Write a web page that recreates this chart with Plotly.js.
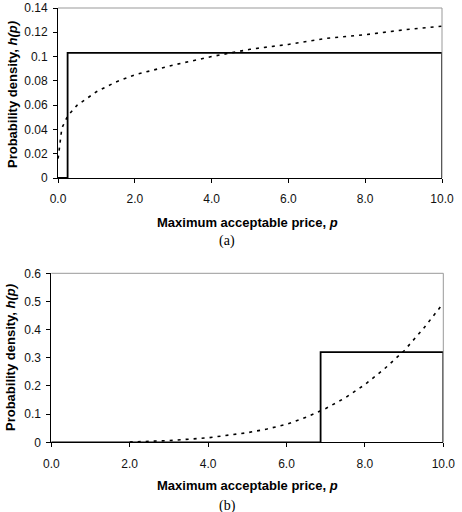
<!DOCTYPE html>
<html>
<head>
<meta charset="utf-8">
<script src="https://cdn.plot.ly/plotly-3.0.1.min.js"></script>
<style>html,body{margin:0;padding:0;background:#fff;}#chart{width:462px;height:512px;}</style>
</head>
<body>
<div id="chart"></div>
<script>
// Panel (a): step distribution and smooth density
var stepAx = [0, 0.25, 0.25, 10, 10];
var stepAy = [0, 0, 0.103, 0.103, 0];
var curveAx = [0.003, 0.1, 0.25, 0.5, 1, 1.5, 2, 3, 4, 5, 6, 7, 8, 9, 10];
var curveAy = [0.016, 0.041, 0.051, 0.060, 0.071, 0.079, 0.085, 0.093, 0.100, 0.106, 0.110, 0.115, 0.118, 0.122, 0.125];

// Panel (b)
var stepBx = [0, 6.87, 6.87, 10, 10];
var stepBy = [0, 0, 0.32, 0.32, 0];
var curveBx = [2, 3, 4, 5, 5.5, 6, 6.5, 7, 7.5, 8, 8.5, 9, 9.5, 9.95];
var curveBy = [0.001, 0.006, 0.016, 0.034, 0.047, 0.064, 0.089, 0.120, 0.158, 0.205, 0.261, 0.325, 0.405, 0.485];

var xTitle = "Maximum acceptable price, <i>p</i>";
var yTitle = "Probability density, <i>h(p)</i>";
var panelLabels = ["(a)", "(b)"];

var W = 462, H = 512;
function px(x){ return x / W; }
function py(y){ return 1 - y / H; }

var solid = {color: "#000", width: 1.8};
var dotted = {color: "#000", width: 1.6, dash: "3px,5px"};

var traces = [
  {x: curveAx, y: curveAy, xaxis: "x", yaxis: "y", mode: "lines", line: dotted, hoverinfo: "skip"},
  {x: stepAx, y: stepAy, xaxis: "x", yaxis: "y", mode: "lines", line: solid, hoverinfo: "skip"},
  {x: curveBx, y: curveBy, xaxis: "x2", yaxis: "y2", mode: "lines", line: dotted, hoverinfo: "skip"},
  {x: stepBx, y: stepBy, xaxis: "x2", yaxis: "y2", mode: "lines", line: solid, hoverinfo: "skip"}
];

var tickFont = {family: "Liberation Sans, Arial, sans-serif", size: 12, color: "#111"};
var titleFont = {family: "Liberation Sans, Arial, sans-serif", size: 13, color: "#000"};
var serifFont = {family: "Liberation Serif, Times New Roman, serif", size: 14, color: "#000"};

function xax(dom, anchor){
  return {domain: dom, anchor: anchor, range: [0, 10], tickvals: [0,2,4,6,8,10], tickformat: ".1f",
    showgrid: false, zeroline: false, showline: true, linecolor: "#000", linewidth: 1,
    ticks: "outside", ticklen: 4, tickcolor: "#000", tickfont: tickFont, ticklabelstandoff: 6, fixedrange: true};
}
function yax(dom, anchor, max, dt){
  return {domain: dom, anchor: anchor, range: [0, max], dtick: dt, tick0: 0,
    showgrid: false, zeroline: false, showline: true, linecolor: "#000", linewidth: 1,
    ticks: "outside", ticklen: 4, tickcolor: "#000", tickfont: tickFont, ticklabelstandoff: 3, fixedrange: true};
}

var A = {l: 58, r: 442, t: 8, b: 178};
var B = {l: 51.3, r: 443.3, t: 273.3, b: 442.3};

var layout = {
  width: W, height: H, margin: {l: 0, r: 0, t: 0, b: 0},
  paper_bgcolor: "#fff", plot_bgcolor: "#fff", showlegend: false,
  xaxis: xax([px(A.l), px(A.r)], "y"),
  yaxis: yax([py(A.b), py(A.t)], "x", 0.14, 0.02),
  xaxis2: xax([px(B.l), px(B.r)], "y2"),
  yaxis2: yax([py(B.b), py(B.t)], "x2", 0.6, 0.1),
  shapes: [
    {type: "line", xref: "paper", yref: "paper", x0: px(A.l), x1: px(A.r), y0: py(A.t), y1: py(A.t), line: {color: "#999", width: 1}},
    {type: "line", xref: "paper", yref: "paper", x0: px(A.r), x1: px(A.r), y0: py(A.t), y1: py(A.b), line: {color: "#999", width: 1}},
    {type: "line", xref: "paper", yref: "paper", x0: px(B.l), x1: px(B.r), y0: py(B.t), y1: py(B.t), line: {color: "#999", width: 1}},
    {type: "line", xref: "paper", yref: "paper", x0: px(B.r), x1: px(B.r), y0: py(B.t), y1: py(B.b), line: {color: "#999", width: 1}}
  ],
  annotations: [
    {text: "<b>" + xTitle + "</b>", xref: "paper", yref: "paper", x: px(247), y: py(222), showarrow: false, font: titleFont, xanchor: "center", yanchor: "middle"},
    {text: "<b>" + yTitle + "</b>", xref: "paper", yref: "paper", x: px(12), y: py(95), showarrow: false, font: titleFont, textangle: -90, xanchor: "center", yanchor: "middle"},
    {text: panelLabels[0], xref: "paper", yref: "paper", x: px(227), y: py(241), showarrow: false, font: serifFont, xanchor: "center", yanchor: "middle"},
    {text: "<b>" + xTitle + "</b>", xref: "paper", yref: "paper", x: px(247), y: py(485), showarrow: false, font: titleFont, xanchor: "center", yanchor: "middle"},
    {text: "<b>" + yTitle + "</b>", xref: "paper", yref: "paper", x: px(10), y: py(358), showarrow: false, font: titleFont, textangle: -90, xanchor: "center", yanchor: "middle"},
    {text: panelLabels[1], xref: "paper", yref: "paper", x: px(227), y: py(506), showarrow: false, font: serifFont, xanchor: "center", yanchor: "middle"}
  ]
};

Plotly.newPlot("chart", traces, layout, {staticPlot: true, displayModeBar: false});
</script>
</body>
</html>
